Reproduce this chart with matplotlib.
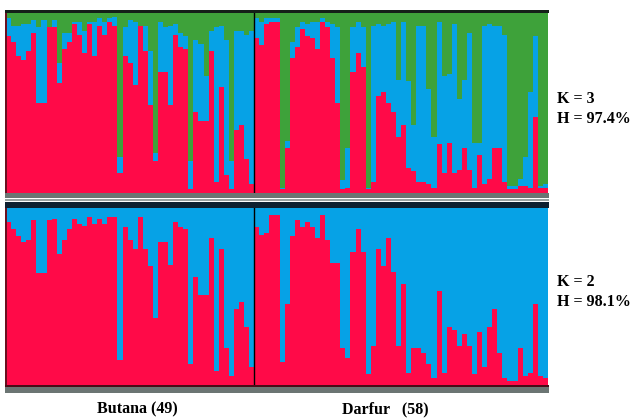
import numpy as np
import matplotlib.pyplot as plt
from matplotlib.patches import Rectangle

# ancestry proportions per individual (Butana 49, Darfur 58)
k3_red_butana = [0.87, 0.84, 0.76, 0.74, 0.79, 0.89, 0.50, 0.50, 0.92, 0.92,
                 0.61, 0.80, 0.84, 0.94, 0.88, 0.78, 0.94, 0.76, 0.93, 0.88,
                 0.95, 0.93, 0.11, 0.76, 0.72, 0.60, 0.94, 0.79, 0.49, 0.18,
                 0.67, 0.67, 0.49, 0.88, 0.81, 0.80, 0.02, 0.45, 0.40, 0.40,
                 0.79, 0.06, 0.59, 0.10, 0.02, 0.35, 0.38, 0.19, 0.05]
k3_green_butana = [0.03, 0.07, 0.07, 0.06, 0.06, 0.04, 0.08, 0.04, 0.08, 0.04,
                   0.28, 0.11, 0.11, 0.05, 0.05, 0.10, 0.05, 0.05, 0.03, 0.05,
                   0.03, 0.02, 0.80, 0.08, 0.04, 0.05, 0.07, 0.07, 0.21, 0.78,
                   0.05, 0.08, 0.07, 0.06, 0.11, 0.13, 0.82, 0.15, 0.17, 0.35,
                   0.10, 0.08, 0.07, 0.15, 0.82, 0.10, 0.10, 0.12, 0.10]
k3_red_darfur = [0.86, 0.82, 0.94, 0.95, 0.95, 0.02, 0.25, 0.75, 0.81, 0.91,
                 0.87, 0.86, 0.80, 0.95, 0.92, 0.75, 0.50, 0.02, 0.03, 0.67,
                 0.78, 0.70, 0.02, 0.06, 0.54, 0.56, 0.50, 0.45, 0.31, 0.38,
                 0.14, 0.12, 0.06, 0.06, 0.05, 0.03, 0.27, 0.11, 0.28, 0.11,
                 0.13, 0.25, 0.13, 0.03, 0.21, 0.05, 0.08, 0.25, 0.25, 0.06,
                 0.02, 0.02, 0.04, 0.04, 0.03, 0.42, 0.03, 0.03]
k3_green_darfur = [0.03, 0.05, 0.03, 0.03, 0.03, 0.97, 0.71, 0.16, 0.08, 0.05,
                   0.06, 0.05, 0.05, 0.03, 0.05, 0.06, 0.08, 0.93, 0.75, 0.08,
                   0.05, 0.08, 0.97, 0.07, 0.06, 0.07, 0.06, 0.05, 0.37, 0.05,
                   0.38, 0.62, 0.07, 0.07, 0.42, 0.69, 0.05, 0.35, 0.34, 0.06,
                   0.48, 0.37, 0.11, 0.72, 0.72, 0.07, 0.06, 0.07, 0.07, 0.12,
                   0.96, 0.96, 0.92, 0.80, 0.44, 0.13, 0.96, 0.95]

k2_red_butana = [0.92, 0.88, 0.84, 0.81, 0.82, 0.93, 0.63, 0.63, 0.93, 0.94,
                 0.74, 0.82, 0.88, 0.94, 0.91, 0.90, 0.95, 0.91, 0.94, 0.91,
                 0.95, 0.95, 0.14, 0.89, 0.82, 0.77, 0.95, 0.77, 0.67, 0.38,
                 0.81, 0.81, 0.68, 0.92, 0.89, 0.88, 0.12, 0.61, 0.51, 0.51,
                 0.83, 0.08, 0.77, 0.21, 0.05, 0.43, 0.47, 0.33, 0.10]
k2_red_darfur = [0.89, 0.85, 0.86, 0.96, 0.96, 0.13, 0.46, 0.84, 0.93, 0.89,
                 0.92, 0.89, 0.83, 0.96, 0.82, 0.69, 0.69, 0.21, 0.15, 0.75,
                 0.88, 0.75, 0.06, 0.22, 0.77, 0.67, 0.83, 0.64, 0.22, 0.57,
                 0.07, 0.21, 0.21, 0.18, 0.12, 0.04, 0.53, 0.07, 0.33, 0.31,
                 0.22, 0.29, 0.22, 0.06, 0.30, 0.10, 0.33, 0.43, 0.18, 0.04,
                 0.02, 0.02, 0.21, 0.05, 0.07, 0.46, 0.05, 0.04]

pops = ["Butana (49)", "Darfur   (58)"]
k3_label = "K = 3\nH = 97.4%"
k2_label = "K = 2\nH = 98.1%"

RED = "#ff0a48"
BLUE = "#06a2e6"
GREEN = "#3ea23a"

W, H = 633, 419
fig = plt.figure(figsize=(W / 100, H / 100), dpi=100)


def frect(x0, y0, x1, y1, color):
    # rectangle given in pixel coords, y measured from top
    fig.add_artist(Rectangle((x0 / W, 1 - y1 / H), (x1 - x0) / W, (y1 - y0) / H,
                             transform=fig.transFigure, color=color, lw=0))


def panel(top, bottom, red, green):
    ax = fig.add_axes([6 / W, 1 - bottom / H, 542 / W, (bottom - top) / H])
    red = np.array(red)
    green = np.array(green)
    blue = 1 - red - green
    x = np.arange(len(red))
    ax.bar(x, red, width=1.0, align="edge", color=RED, lw=0)
    ax.bar(x, blue, width=1.0, align="edge", bottom=red, color=BLUE, lw=0)
    ax.bar(x, green, width=1.0, align="edge", bottom=red + blue, color=GREEN, lw=0)
    ax.axvline(49, color="black", lw=1)
    ax.set_xlim(0, len(red))
    ax.set_ylim(0, 1)
    ax.axis("off")
    return ax


n_b = len(k3_red_butana)
n_d = len(k3_red_darfur)

# K = 3
panel(13, 193, k3_red_butana + k3_red_darfur, k3_green_butana + k3_green_darfur)
frect(5, 10, 549, 13, "#142018")
frect(5, 193, 549, 198, "#6b7573")
frect(5, 13, 7, 193, "#6a1020")

# K = 2
panel(208, 385, k2_red_butana + k2_red_darfur, [0.0] * (n_b + n_d))
frect(5, 202, 549, 208, "#0e2030")
frect(5, 199, 549, 201, "#9aa3a2")
frect(5, 385, 549, 387, "#4a0c18")
frect(5, 387, 549, 393, "#6b7573")
frect(5, 208, 7, 385, "#6a1020")

font = dict(family=["Liberation Serif", "DejaVu Serif"], fontweight="bold", fontsize=11.5)
fig.text(557 / W, 1 - 123 / H, k3_label, ha="left", va="baseline", linespacing=1.35, **font)
fig.text(557 / W, 1 - 306 / H, k2_label, ha="left", va="baseline", linespacing=1.35, **font)
fig.text(97 / W, 1 - 413 / H, pops[0], ha="left", va="baseline", **font)
fig.text(342 / W, 1 - 413 / H, pops[1], ha="left", va="baseline", **font)

fig.savefig("out.png", dpi=100)
